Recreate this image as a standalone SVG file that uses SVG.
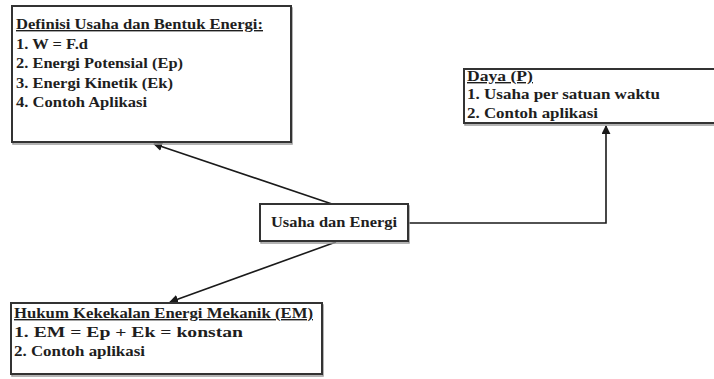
<svg xmlns="http://www.w3.org/2000/svg" width="714" height="379" viewBox="0 0 714 379">
  <defs>
    <marker id="arrow" viewBox="0 0 10 10" refX="9" refY="5" markerWidth="9" markerHeight="9" markerUnits="userSpaceOnUse" orient="auto">
      <path d="M0,0 L10,5 L0,10 Z" fill="#1a1a1a"/>
    </marker>
  </defs>
  <style>
    .box { fill: #ffffff; stroke: #333333; stroke-width: 2; }
    .shadow { fill: none; stroke: #9a9a9a; stroke-width: 1.5; }
    text { font-family: 'Liberation Serif', 'Times New Roman', serif; font-weight: 700; font-size: 14px; fill: #1e1e1e; }
    .u { text-decoration: underline; }
    .link { fill: none; stroke: #1a1a1a; stroke-width: 1.6; }
  </style>
  <rect width="714" height="379" fill="#ffffff"/>

  <!-- arrows from the central topic to each sub-topic -->
  <g id="connectors">
    <line class="link" x1="332" y1="204" x2="154" y2="144" marker-end="url(#arrow)"/>
    <polyline class="link" points="408,223 606,223 606,126" marker-end="url(#arrow)"/>
    <line class="link" x1="336" y1="242" x2="170" y2="302" marker-end="url(#arrow)"/>
  </g>

  <g id="node-definisi">
    <rect class="shadow" x="13" y="8" width="279" height="136"/>
    <rect class="box" x="12" y="6" width="279" height="136"/>
    <text class="u" x="16" y="29" textLength="247" lengthAdjust="spacingAndGlyphs">Definisi Usaha dan Bentuk Energi:</text>
    <text x="16" y="49" textLength="72" lengthAdjust="spacingAndGlyphs">1. W = F.d</text>
    <text x="16" y="68" textLength="167" lengthAdjust="spacingAndGlyphs">2. Energi Potensial (Ep)</text>
    <text x="16" y="88" textLength="157" lengthAdjust="spacingAndGlyphs">3. Energi Kinetik (Ek)</text>
    <text x="16" y="107" textLength="131" lengthAdjust="spacingAndGlyphs">4. Contoh Aplikasi</text>
  </g>

  <g id="node-daya">
    <rect class="shadow" x="465" y="71" width="260" height="54"/>
    <rect class="box" x="464" y="69" width="260" height="54"/>
    <text class="u" x="467" y="81" textLength="66" lengthAdjust="spacingAndGlyphs">Daya (P)</text>
    <text x="467" y="99" textLength="193" lengthAdjust="spacingAndGlyphs">1. Usaha per satuan waktu</text>
    <text x="467" y="118" textLength="131" lengthAdjust="spacingAndGlyphs">2. Contoh aplikasi</text>
  </g>

  <g id="node-usaha">
    <rect class="shadow" x="261" y="206" width="148" height="37"/>
    <rect class="box" x="260" y="204" width="148" height="37"/>
    <text x="271" y="227" textLength="126" lengthAdjust="spacingAndGlyphs">Usaha dan Energi</text>
  </g>

  <g id="node-hukum">
    <rect class="shadow" x="12" y="305" width="311" height="71"/>
    <rect class="box" x="11" y="303" width="311" height="71"/>
    <text class="u" x="14" y="318" textLength="299" lengthAdjust="spacingAndGlyphs">Hukum Kekekalan Energi Mekanik (EM)</text>
    <text x="14" y="337" textLength="229" lengthAdjust="spacingAndGlyphs">1. EM = Ep + Ek = konstan</text>
    <text x="14" y="356" textLength="131" lengthAdjust="spacingAndGlyphs">2. Contoh aplikasi</text>
  </g>
</svg>
